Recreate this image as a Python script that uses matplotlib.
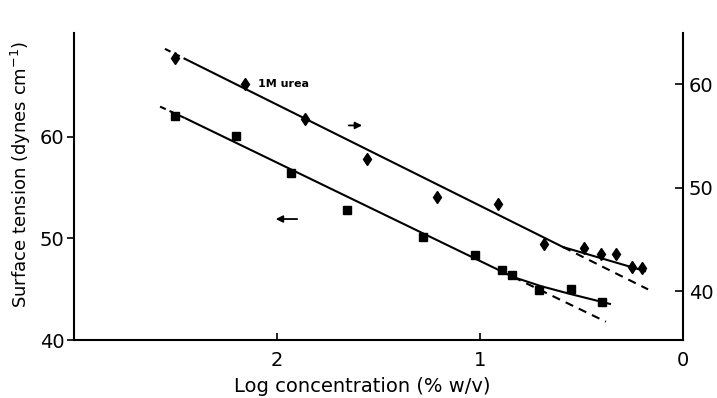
import matplotlib
matplotlib.use("Agg")
import matplotlib.pyplot as plt
import numpy as np

# lower series (squares, left axis) - surface tension in water
sq_logc = [2.50, 2.20, 1.93, 1.655, 1.28, 1.025, 0.89, 0.84, 0.71, 0.55, 0.40]
sq_st = [62.0, 60.1, 56.45, 52.8, 50.15, 48.4, 46.9, 46.4, 44.9, 45.0, 43.7]

# upper series (diamonds, right axis) - 1M urea
di_logc = [2.50, 2.16, 1.86, 1.555, 1.21, 0.913, 0.685, 0.49, 0.405, 0.33, 0.253, 0.20]
di_st = [62.5, 60.0, 56.6, 52.8, 49.1, 48.4, 44.5, 44.2, 43.6, 43.6, 42.3, 42.2]

# hand drawn fit lines
sq_fit_x = [2.45, 0.837]
sq_fit_y = [61.8, 46.2]
sq_start_x = [2.576, 2.45]
sq_start_y = [62.96, 61.8]
sq_tail_x = [0.837, 0.70, 0.55, 0.36]
sq_tail_y = [46.2, 45.3, 44.5, 43.55]
sq_ext_x = [0.837, 0.38]
sq_ext_y = [46.2, 41.8]

di_fit_x = [2.45, 0.591]
di_fit_y = [62.4, 44.25]
di_start_x = [2.552, 2.45]
di_start_y = [63.4, 62.4]
di_tail_x = [0.591, 0.187]
di_tail_y = [44.25, 41.93]
di_ext_x = [0.591, 0.172]
di_ext_y = [44.25, 40.16]

fig = plt.figure(figsize=(7.17, 3.98), dpi=100)
ax = fig.add_axes([0.1032, 0.1457, 0.8494, 0.7714])
ax2 = ax.twinx()

lw = 1.5
# left axis (squares)
ax.plot(sq_fit_x, sq_fit_y, color='black', lw=lw)
ax.plot(sq_start_x, sq_start_y, color='black', lw=lw, linestyle=(0, (3, 2)))
ax.plot(sq_tail_x, sq_tail_y, color='black', lw=lw)
ax.plot(sq_ext_x, sq_ext_y, color='black', lw=lw, linestyle=(0, (4, 3)))
ax.plot(sq_logc, sq_st, linestyle='none', marker='s', ms=6, color='black')

# right axis (diamonds)
ax2.plot(di_fit_x, di_fit_y, color='black', lw=lw)
ax2.plot(di_start_x, di_start_y, color='black', lw=lw, linestyle=(0, (3, 2)))
ax2.plot(di_tail_x, di_tail_y, color='black', lw=lw)
ax2.plot(di_ext_x, di_ext_y, color='black', lw=lw, linestyle=(0, (4, 3)))
ax2.plot(di_logc, di_st, linestyle='none', marker='d', ms=6, color='black')

ax.set_xlim(3, 0)
ax.set_ylim(40, 70.2)
ax2.set_ylim(35.27, 64.93)

ax.set_xticks([2, 1, 0])
ax.set_yticks([40, 50, 60])
ax2.set_yticks([40, 50, 60])

for a in (ax, ax2):
    a.spines['top'].set_visible(False)
    for s in a.spines.values():
        s.set_linewidth(1.5)
ax.spines['right'].set_visible(False)
ax2.spines['left'].set_visible(False)
ax2.spines['bottom'].set_visible(False)

ax.tick_params(axis='y', direction='out', length=5, width=1.2, labelsize=14, pad=2)
ax.tick_params(axis='x', direction='in', length=5, width=1.2, labelsize=14, pad=8)
ax2.tick_params(axis='y', direction='in', length=6, width=1.2, labelsize=14, pad=4)

ax.set_ylabel('Surface tension (dynes cm$^{-1}$)', fontsize=13)
ax.yaxis.set_label_coords(-0.068, 0.54)
ax.set_xlabel('Log concentration (% w/v)', fontsize=14)
ax.xaxis.set_label_coords(0.473, -0.12)

# annotations
ax2.text(2.094, 60.0, '1M urea', fontsize=8, fontweight='bold', va='center', ha='left')
ax2.annotate('', xy=(1.567, 56.0), xytext=(1.66, 56.0),
             arrowprops=dict(arrowstyle='-|>', color='black', lw=1.3, mutation_scale=10))
ax.annotate('', xy=(2.02, 51.9), xytext=(1.887, 51.9),
            arrowprops=dict(arrowstyle='-|>', color='black', lw=1.3, mutation_scale=10))

fig.savefig('out.png', dpi=100)
